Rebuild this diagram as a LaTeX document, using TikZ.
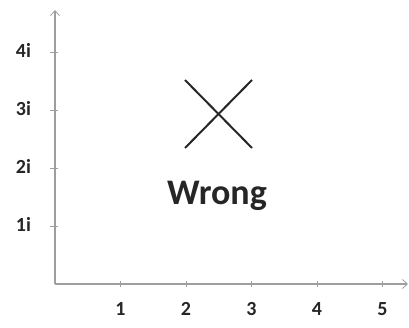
\documentclass[tikz,border=0pt]{standalone}
\usepackage{fontspec}
\setmainfont{Carlito}
\usetikzlibrary{arrows.meta}
\begin{document}
\begin{tikzpicture}[x=1pt,y=-1pt,
  axis/.style={draw=black!38,line width=1.4pt,-{Straight Barb[length=5pt,width=9pt,line width=0.8pt]}},
  tick/.style={draw=black!38,line width=0.8pt},
  lab/.style={font=\bfseries\fontsize{20}{22}\selectfont,text=black!85,inner sep=0pt},
  cross/.style={draw=black!85,line width=2pt}]
\useasboundingbox (0,0) rectangle (409,328);
\coordinate (O) at (55,284);
\coordinate (xe) at (408,284);
\coordinate (ye) at (55,10);
\draw[axis] (O) -- (xe);
\draw[axis] (O) -- (ye);
\foreach \i in {1,...,5} {
  \draw[tick] (55+65.5*\i,281) -- (55+65.5*\i,287);
  \node[lab,anchor=base] (x\i) at (55+65.5*\i,315) {\i};
}
\foreach \j in {1,...,4} {
  \draw[tick] (50,284-58*\j) -- (58,284-58*\j);
  \node[lab,anchor=base] (y\j) at (23.5,290-58*\j) {\j i};
}
\coordinate (a1) at (185,80);
\coordinate (a2) at (252,148);
\coordinate (b1) at (252,80);
\coordinate (b2) at (185,148);
\draw[cross] (a1) -- (a2);
\draw[cross] (b1) -- (b2);
\node[font=\bfseries\fontsize{36}{40}\selectfont,text=black!85,anchor=base,inner sep=0pt] (w) at (217,205) {Wrong};
\end{tikzpicture}
\end{document}
